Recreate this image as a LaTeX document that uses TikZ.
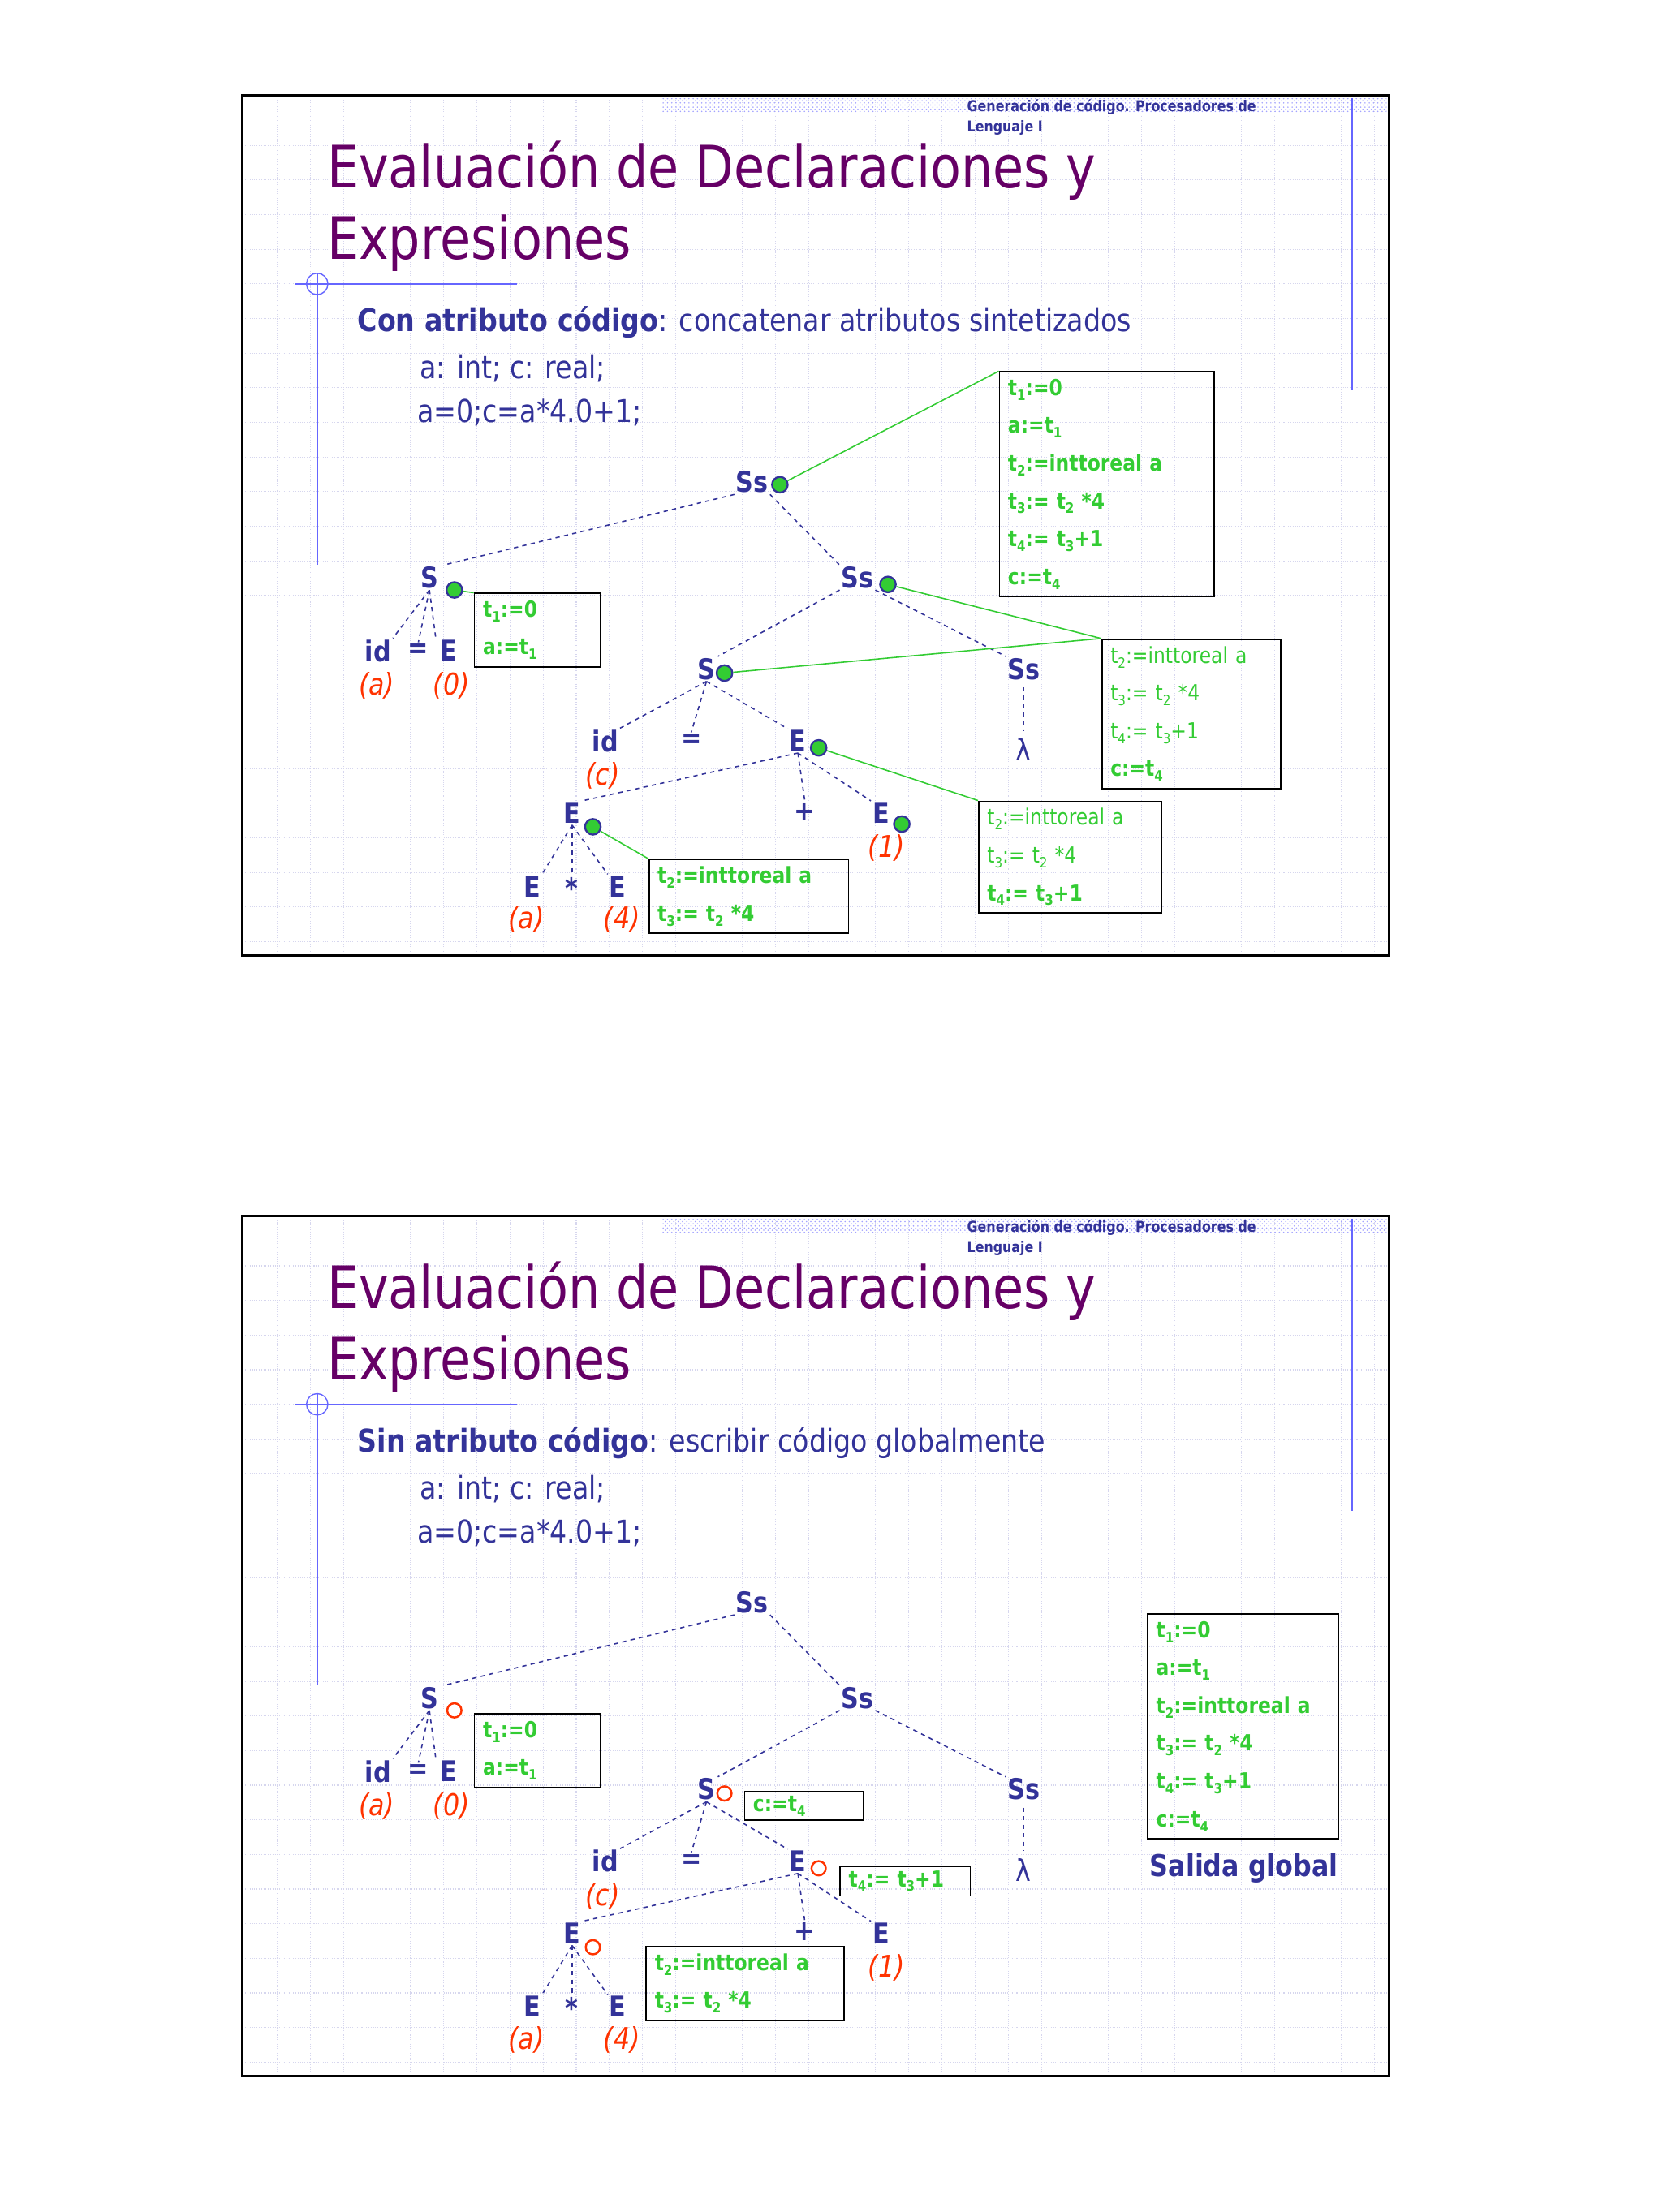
\documentclass[tikz,border=0pt]{standalone}
\usepackage{fontspec}
\setmainfont[FakeStretch=0.86]{DejaVu Sans}
\usetikzlibrary{patterns}
\definecolor{navy}{HTML}{333399}
\definecolor{grn}{HTML}{33CC33}
\definecolor{rd}{HTML}{FF3300}
\definecolor{purp}{HTML}{660066}
\definecolor{lblue}{HTML}{6666FF}
\definecolor{gridc}{HTML}{D6D6EE}
\newcommand{\tsub}[1]{\raisebox{-0.4ex}{\fontsize{10}{10}\selectfont #1}}
\tikzset{
 lab/.style={font=\bfseries\fontsize{20}{20}\selectfont,text=navy,inner sep=1pt},
 redl/.style={font=\itshape\fontsize{21}{21}\selectfont,text=rd,inner sep=1pt},
 tline/.style={navy,dashed,line width=0.9pt},
 gline/.style={grn,line width=0.9pt},
 cbox/.style={draw=black,line width=1pt,align=left,anchor=north west,text=grn,font=\fontsize{15.5}{26.5}\selectfont,inner xsep=6pt,inner ysep=5pt,text width=#1*0.03413cm-12pt},
 gdot/.style={circle,fill=grn,draw=navy,line width=1.3pt,minimum size=11pt,inner sep=0pt},
 rdot/.style={circle,draw=rd,line width=1.4pt,minimum size=10pt,inner sep=0pt,fill=white},
}
\newcommand{\slideframe}[4]{%
 \begin{scope}[yshift=#1*-0.03413cm]
 \foreach \gy in {105,130,...,680} \draw[gridc,densely dotted,line width=0.6pt] (177,\gy) -- (1001,\gy);
 \foreach \gx in {200,224,...,1000} \draw[gridc,densely dotted,line width=0.6pt] (\gx,72) -- (\gx,688);
 \fill[pattern=crosshatch dots,pattern color=lblue!60] (478,71) rectangle (1001,81);
 \draw[lblue,line width=0.8pt] (976,71) -- (976,282);
 \draw[lblue,line width=0.8pt] (229,197) -- (229,408);
 \draw[lblue,line width=0.8pt] (213,205) -- (373,205);
 \draw[lblue,line width=0.8pt] (229,205) circle[radius=7.5pt];
 \node[anchor=north west,inner sep=0pt,align=left,text=navy,font=\bfseries\fontsize{10.5}{14}\selectfont] (#4hdr) at (698,72) {Generación de código. Procesadores de\\Lenguaje I};
 \node[anchor=west,inner sep=0pt,align=left,text=purp,font=\fontsize{41}{50}\selectfont] (#4title) at (236,149) {Evaluación de Declaraciones y\\Expresiones};
 \node[anchor=west,inner sep=0pt,text=navy,font=\fontsize{22}{22}\selectfont] (#4sub) at (258,233) {\textbf{#2}: #3};
 \node[anchor=west,inner sep=0pt,text=navy,font=\fontsize{22}{22}\selectfont] (#4l1) at (303,266) {a: int; c: real;};
 \node[anchor=west,inner sep=0pt,text=navy,font=\fontsize{22}{22}\selectfont] (#4l2) at (301,298) {a=0;c=a*4.0+1;};
 \draw[black,line width=1.6pt] (175,69) rectangle (1003,690);
 \end{scope}}
\begin{document}
\begin{tikzpicture}[x=0.03413cm,y=-0.03413cm]
\useasboundingbox (0,0) rectangle (1200,1597.2);
\fill[white] (0,0) rectangle (1200,1597.2);
\slideframe{0}{Con atributo código}{concatenar atributos sintetizados}{a}
\slideframe{809}{Sin atributo código}{escribir código globalmente}{b}

% ================= slide 1 tree
\node[lab] (A0) at (543,348) {Ss};
\node[gdot] (A0d) at (563,350) {};
\node[lab] (A1) at (310,417) {S};
\node[gdot] (A1d) at (328,426) {};
\node[lab] (A2) at (619,417) {Ss};
\node[gdot] (A2d) at (641,422) {};
\node[lab] (A3) at (273,470) {id};
\node[lab] (A4) at (302,470) {=};
\node[lab] (A5) at (324,470) {E};
\node[redl] (A3r) at (272,495) {(a)};
\node[redl] (A5r) at (326,495) {(0)};
\node[lab] (A6) at (510,483) {S};
\node[gdot] (A6d) at (523,486) {};
\node[lab] (A7) at (739,483) {Ss};
\node[font=\fontsize{21}{21}\selectfont,text=navy,inner sep=1pt] (A7l) at (739,541) {λ};
\node[lab] (A8) at (437,535) {id};
\node[redl] (A8r) at (435,560) {(c)};
\node[lab] (A9) at (499,535) {=};
\node[lab] (A10) at (576,535) {E};
\node[gdot] (A10d) at (591,540) {};
\node[lab] (A11) at (413,587) {E};
\node[gdot] (A11d) at (428,597) {};
\node[lab] (A12) at (581,586) {+};
\node[lab] (A13) at (636,587) {E};
\node[gdot] (A13d) at (651,595) {};
\node[redl] (A13r) at (640,612) {(1)};
\node[lab] (A14) at (384,640) {E};
\node[lab] (A15) at (413,641) {*};
\node[lab] (A16) at (446,640) {E};
\node[redl] (A14r) at (380,664) {(a)};
\node[redl] (A16r) at (449,664) {(4)};

\draw[tline] (A0.south west) -- ([xshift=10pt]A1.north);
\draw[tline] (A0.south east) -- (A2.north west);
\draw[tline] (A1.south) -- (A3.north east);
\draw[tline] (A1.south) -- (A4.north);
\draw[tline] (A1.south) -- ([xshift=-2pt]A5.north west);
\draw[tline] (A2.south west) -- ([xshift=8pt]A6.north);
\draw[tline] (A2.south east) -- (A7.north west);
\draw[tline] ([yshift=-4pt]A7.south) -- ([yshift=4pt]A7l.north);
\draw[tline] (A6.south) -- (A8.north east);
\draw[tline] (A6.south) -- (A9.north);
\draw[tline] (A6.south) -- (A10.north west);
\draw[tline] (A10.south) -- (A11.north east);
\draw[tline] (A10.south) -- (A12.north);
\draw[tline] (A10.south) -- (A13.north west);
\draw[tline] (A11.south) -- (A14.north east);
\draw[tline] (A11.south) -- (A15.north);
\draw[tline] (A11.south) -- (A16.north west);

\node[cbox=155] (B1) at (721,268) {\textbf{t\tsub{1}:=0}\\\textbf{a:=t\tsub{1}}\\\textbf{t\tsub{2}:=inttoreal a}\\\textbf{t\tsub{3}:= t\tsub{2} *4}\\\textbf{t\tsub{4}:= t\tsub{3}+1}\\\textbf{c:=t\tsub{4}}};
\node[cbox=91] (B2) at (342,428) {\textbf{t\tsub{1}:=0}\\\textbf{a:=t\tsub{1}}};
\node[cbox=129] (B3) at (795,461) {t\tsub{2}:=inttoreal a\\t\tsub{3}:= t\tsub{2} *4\\t\tsub{4}:= t\tsub{3}+1\\\textbf{c:=t\tsub{4}}};
\node[cbox=132] (B4) at (706,578) {t\tsub{2}:=inttoreal a\\t\tsub{3}:= t\tsub{2} *4\\\textbf{t\tsub{4}:= t\tsub{3}+1}};
\node[cbox=144] (B5) at (468,620) {\textbf{t\tsub{2}:=inttoreal a}\\\textbf{t\tsub{3}:= t\tsub{2} *4}};
\draw[gline] (A0d) -- (B1.north west);
\draw[gline] (A1d) -- (B2.north west);
\draw[gline] (A2d) -- (B3.north west);
\draw[gline] (A6d) -- (B3.north west);
\draw[gline] (A10d) -- (B4.north west);
\draw[gline] (A11d) -- (B5.north west);

% ================= slide 2 tree
\begin{scope}[yshift=-809*0.03413cm]
\node[lab] (C0) at (543,348) {Ss};
\node[lab] (C1) at (310,417) {S};
\node[rdot] (C1d) at (328,426) {};
\node[lab] (C2) at (619,417) {Ss};
\node[lab] (C3) at (273,470) {id};
\node[lab] (C4) at (302,470) {=};
\node[lab] (C5) at (324,470) {E};
\node[redl] (C3r) at (272,495) {(a)};
\node[redl] (C5r) at (326,495) {(0)};
\node[lab] (C6) at (510,483) {S};
\node[rdot] (C6d) at (523,486) {};
\node[lab] (C7) at (739,483) {Ss};
\node[font=\fontsize{21}{21}\selectfont,text=navy,inner sep=1pt] (C7l) at (739,541) {λ};
\node[lab] (C8) at (437,535) {id};
\node[redl] (C8r) at (435,560) {(c)};
\node[lab] (C9) at (499,535) {=};
\node[lab] (C10) at (576,535) {E};
\node[rdot] (C10d) at (591,540) {};
\node[lab] (C11) at (413,587) {E};
\node[rdot] (C11d) at (428,597) {};
\node[lab] (C12) at (581,586) {+};
\node[lab] (C13) at (636,587) {E};
\node[redl] (C13r) at (640,612) {(1)};
\node[lab] (C14) at (384,640) {E};
\node[lab] (C15) at (413,641) {*};
\node[lab] (C16) at (446,640) {E};
\node[redl] (C14r) at (380,664) {(a)};
\node[redl] (C16r) at (449,664) {(4)};

\draw[tline] (C0.south west) -- ([xshift=10pt]C1.north);
\draw[tline] (C0.south east) -- (C2.north west);
\draw[tline] (C1.south) -- (C3.north east);
\draw[tline] (C1.south) -- (C4.north);
\draw[tline] (C1.south) -- ([xshift=-2pt]C5.north west);
\draw[tline] (C2.south west) -- ([xshift=8pt]C6.north);
\draw[tline] (C2.south east) -- (C7.north west);
\draw[tline] ([yshift=-4pt]C7.south) -- ([yshift=4pt]C7l.north);
\draw[tline] (C6.south) -- (C8.north east);
\draw[tline] (C6.south) -- (C9.north);
\draw[tline] (C6.south) -- (C10.north west);
\draw[tline] (C10.south) -- (C11.north east);
\draw[tline] (C10.south) -- (C12.north);
\draw[tline] (C10.south) -- (C13.north west);
\draw[tline] (C11.south) -- (C14.north east);
\draw[tline] (C11.south) -- (C15.north);
\draw[tline] (C11.south) -- (C16.north west);

\node[cbox=138] (D1) at (828,356) {\textbf{t\tsub{1}:=0}\\\textbf{a:=t\tsub{1}}\\\textbf{t\tsub{2}:=inttoreal a}\\\textbf{t\tsub{3}:= t\tsub{2} *4}\\\textbf{t\tsub{4}:= t\tsub{3}+1}\\\textbf{c:=t\tsub{4}}};
\node[lab,font=\bfseries\fontsize{21}{21}\selectfont] (D1l) at (898,540) {Salida global};
\node[cbox=91] (D2) at (342,428) {\textbf{t\tsub{1}:=0}\\\textbf{a:=t\tsub{1}}};
\node[cbox=86,font=\fontsize{15.5}{15.5}\selectfont,inner ysep=3pt] (D3) at (537,484) {\textbf{c:=t\tsub{4}}};
\node[cbox=94,font=\fontsize{15.5}{15.5}\selectfont,inner ysep=3pt] (D4) at (606,538) {\textbf{t\tsub{4}:= t\tsub{3}+1}};
\node[cbox=143] (D5) at (466,596) {\textbf{t\tsub{2}:=inttoreal a}\\\textbf{t\tsub{3}:= t\tsub{2} *4}};
\end{scope}
\end{tikzpicture}
\end{document}
